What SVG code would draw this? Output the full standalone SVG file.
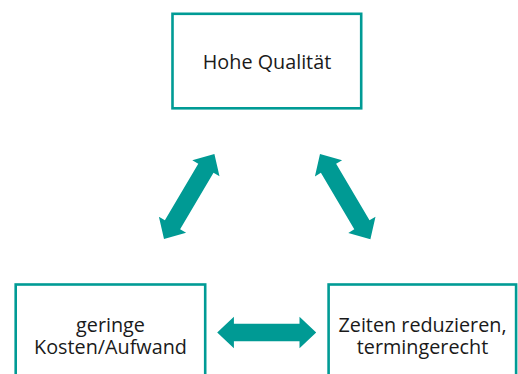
<svg xmlns="http://www.w3.org/2000/svg" xmlns:xlink="http://www.w3.org/1999/xlink" width="518" height="374" viewBox="0 0 518 374">
  <style>
    .box { fill: #ffffff; stroke: #009b95; stroke-width: 2.6; }
    .lbl { font-family: "Open Sans", "Liberation Sans", sans-serif; font-size: 19.8px; fill: #1a1a1a; text-anchor: middle; }
    .arr { fill: #009a94; }
  </style>
  <defs>
    <!-- double-headed block arrow, centred on the origin, pointing along x -->
    <path id="dblArrow" d="M-49.5,0 L-32.8,-15.8 L-32.8,-8.85 L32.8,-8.85 L32.8,-15.8 L49.5,0 L32.8,15.8 L32.8,8.85 L-32.8,8.85 L-32.8,15.8 Z"/>
  </defs>
  <rect width="518" height="374" fill="#ffffff"/>

  <g id="connectors" class="arr">
    <use xlink:href="#dblArrow" transform="translate(189.2,196.5) rotate(-59.4)"/>
    <use xlink:href="#dblArrow" transform="translate(345.2,196.6) rotate(59.4)"/>
    <use xlink:href="#dblArrow" transform="translate(266.7,332.5)"/>
  </g>

  <g id="quality">
    <rect class="box" x="172.5" y="13.8" width="188.7" height="94.5"/>
    <text class="lbl" x="267" y="68.5">Hohe Qualität</text>
  </g>

  <g id="cost">
    <rect class="box" x="15.7" y="284.5" width="189.5" height="120"/>
    <text class="lbl" x="110.5" y="332">geringe</text>
    <text class="lbl" x="110.5" y="353.5">Kosten/Aufwand</text>
  </g>

  <g id="time">
    <rect class="box" x="328.6" y="284.5" width="187.5" height="120"/>
    <text class="lbl" x="422.5" y="332">Zeiten reduzieren,</text>
    <text class="lbl" x="422.5" y="353.5">termingerecht</text>
  </g>
</svg>
